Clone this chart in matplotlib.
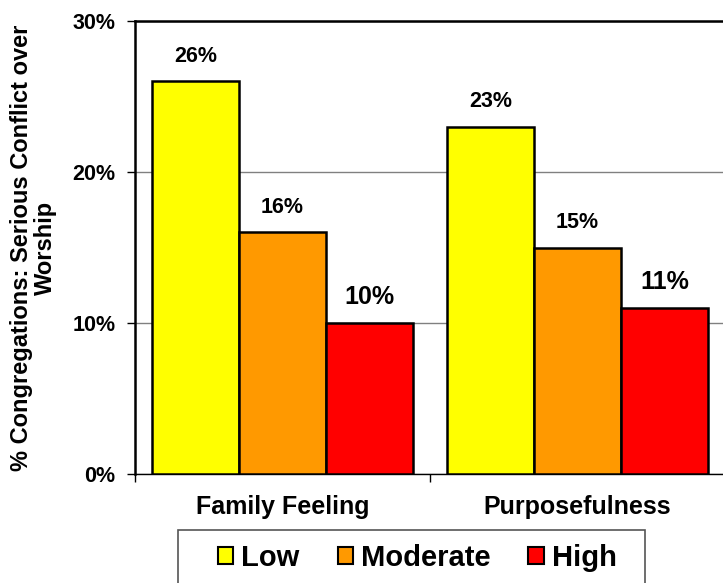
import matplotlib.pyplot as plt
import numpy as np
from matplotlib.patches import Patch, Rectangle

plt.rcParams['font.family'] = ['Liberation Sans', 'DejaVu Sans']
plt.rcParams['font.weight'] = 'bold'

categories = ["Family Feeling", "Purposefulness"]
levels = ["Low", "Moderate", "High"]
colors = ["#FFFF00", "#FF9900", "#FF0000"]
values = {
    "Low": [26, 23],
    "Moderate": [16, 15],
    "High": [10, 11],
}
yticks = [0, 10, 20, 30]
ylabel = "% Congregations: Serious Conflict over\nWorship"

W, H = 723, 583
fig = plt.figure(figsize=(W / 100, H / 100), dpi=100)
ax = fig.add_axes([135 / W, 109 / H, 590 / W, 453 / H])

x = np.arange(len(categories))
w = 0.295
for i, lvl in enumerate(levels):
    pos = x + (i - 1) * w
    ax.bar(pos, values[lvl], width=w, color=colors[i], edgecolor="black",
           linewidth=1.8, zorder=3)
    for px, v in zip(pos, values[lvl]):
        fs = 18 if lvl == "High" else 15.5
        ax.text(px, v + 0.95, f"{v}%", ha="center", va="bottom",
                fontsize=fs, fontweight="bold")

ax.set_xlim(-0.5, 1.5)
ax.set_ylim(0, 30)
ax.set_yticks(yticks)
ax.set_yticklabels([f"{t}%" for t in yticks], fontsize=15.5, fontweight="bold")
ax.yaxis.grid(True, color="#808080", linewidth=1, zorder=0)
ax.tick_params(axis="y", direction="out", length=6, width=1, pad=8)

ax.set_xticks([-0.5, 0.5, 1.5])
ax.set_xticklabels([])
ax.set_xticks(x, minor=True)
ax.set_xticklabels(categories, minor=True, fontsize=18, fontweight="bold")
ax.tick_params(axis="x", which="major", direction="out", length=6, width=1)
ax.tick_params(axis="x", which="minor", length=0, pad=15)

for s in ax.spines.values():
    s.set_linewidth(1.8)
ax.spines["bottom"].set_linewidth(1)

ax.set_ylabel(ylabel, fontsize=17, fontweight="bold", linespacing=1.05)
ax.yaxis.set_label_coords((57 - 135) / 590, 0.5)

# legend box, open at the bottom edge of the picture
fig.patches.append(Rectangle((178 / W, -0.05), (645 - 178) / W,
                             0.05 + (H - 530) / H, transform=fig.transFigure,
                             facecolor="white", edgecolor="#555555",
                             linewidth=1.2))
handles = [Patch(facecolor=c, edgecolor="black", linewidth=1.5) for c in colors]
fig.legend(handles, levels, loc="upper left",
           bbox_to_anchor=(218 / W, 1 - 544 / H), ncol=3,
           prop={"size": 21, "weight": "bold"}, frameon=False,
           handlelength=0.52, handleheight=0.55, handletextpad=0.28,
           columnspacing=1.3, borderpad=0, borderaxespad=0)

fig.savefig("out.png", dpi=100)
